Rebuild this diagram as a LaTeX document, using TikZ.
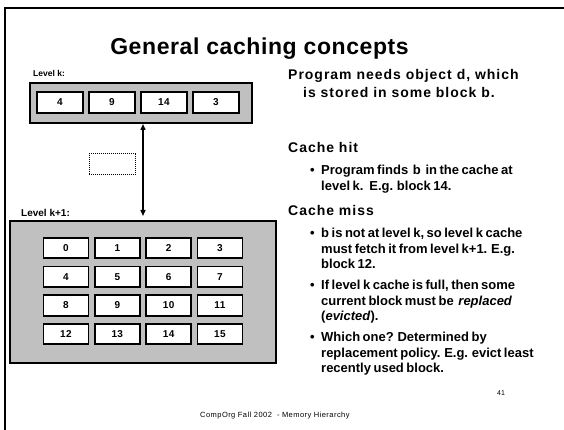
\documentclass[tikz,border=0pt]{standalone}
\usepackage{fontspec}
\setmainfont{Liberation Sans}
\newfontfamily\titlefont[LetterSpace=2.5]{Liberation Sans}
\newfontfamily\headfont[LetterSpace=7]{Liberation Sans}
\newfontfamily\bodyfont[WordSpace=0.7]{Liberation Sans}
\newfontfamily\numfont[LetterSpace=4]{Liberation Sans}
\newfontfamily\footfont[LetterSpace=6]{Liberation Sans}
\usetikzlibrary{arrows.meta}
\definecolor{cachegray}{HTML}{C0C0C0}
\tikzset{
  slideframe/.style={line width=2.2pt},
  panel/.style={draw, line width=2pt, fill=cachegray, inner sep=0pt},
  cell/.style={draw, line width=1.8pt, fill=white, inner sep=0pt,
    minimum width=46pt, minimum height=21pt,
    font=\numfont\bfseries\fontsize{10}{12}\selectfont},
  lvl/.style={anchor=base west, inner sep=0pt, font=\bfseries\fontsize{8.5}{10}\selectfont},
  head/.style={anchor=base west, inner sep=0pt, font=\headfont\bfseries\fontsize{14}{16}\selectfont},
  body/.style={anchor=base west, inner sep=0pt, font=\bodyfont\bfseries\fontsize{13}{15}\selectfont},
  bul/.style={anchor=base west, inner sep=0pt, font=\bfseries\fontsize{13}{15}\selectfont},
  link/.style={line width=1.4pt, {Triangle[length=6pt,width=5pt]}-{Triangle[length=6pt,width=5pt]}},
  ghost/.style={draw, line width=1pt, dash pattern=on 1pt off 1pt, minimum width=46pt, minimum height=21pt, inner sep=0pt}
}
\begin{document}
\begin{tikzpicture}[x=1pt,y=-1pt]
\useasboundingbox (0,0) rectangle (564,430);
\fill[white] (0,0) rectangle (564,430);
% slide frame
\draw[slideframe] (5,430) -- (5,8) -- (564,8);
% title
\node[anchor=base, inner sep=0pt, font=\titlefont\bfseries\fontsize{23}{27}\selectfont] (title) at (259.5,55) {General caching concepts};
% level k
\node[lvl] (lklab) at (33,77) {Level k:};
\node[panel, minimum width=222.5pt, minimum height=40pt] (lk) at (140.75,103) {};
\foreach \v [count=\i from 0] in {4,9,14,3}
  \node[cell] (k\i) at ({60+52*\i},102.5) {\v};
% level k+1
\node[lvl, font=\bfseries\fontsize{10}{12}\selectfont] (lk1lab) at (21,217) {Level k+1:};
\node[panel, minimum width=266.5pt, minimum height=142pt] (lk1) at (142.75,292) {};
\foreach \r in {0,...,3}
  \foreach \c in {0,...,3} {
    \pgfmathtruncatemacro\n{4*\r+\c}
    \node[cell, minimum width=45pt, minimum height=20.5pt] (m\n) at ({66+51.3*\c},{248+28.7*\r}) {\n};
  }
% transfer arrow
\coordinate (abot) at (143,216);
\draw[link] (abot |- lk.south) -- (abot);
% dotted block
\node[ghost] (gb) at (112,164.5) {};
% right text
\node[head] (h1) at (288,80) {Program needs object d, which};
\node[head] (h2) at (303,98) {is stored in some block b.};
\node[head] (hit) at (288,153) {Cache hit};
\node[bul] (bh) at (310,174.5) {•};
\node[body] (h1a) at (321,174.5) {Program finds\, b\, in the cache at};
\node[body] (h1b) at (321,190.5) {level k.\, E.g. block 14.};
\node[head] (miss) at (288,215.5) {Cache miss};
\node[bul] (b1) at (310,237.5) {•};
\node[body] (m1a) at (321,237.5) {b is not at level k, so level k cache};
\node[body] (m1b) at (321,253) {must fetch it from level k+1. E.g.};
\node[body] (m1c) at (321,268.5) {block 12.};
\node[bul] (b2) at (310,289.5) {•};
\node[body] (m2a) at (321,289.5) {If level k cache is full, then some};
\node[body] (m2b) at (321,305) {current block must be\, \textit{replaced}};
\node[body] (m2c) at (321,320.5) {(\textit{evicted}).};
\node[bul] (b3) at (310,341.5) {•};
\node[body] (m3a) at (321,341.5) {Which one? Determined by};
\node[body] (m3b) at (321,357) {replacement policy. E.g. evict least};
\node[body] (m3c) at (321,372.5) {recently used block.};
% footer
\node[anchor=base, inner sep=0pt, font=\fontsize{7}{8}\selectfont] (pg) at (501,395) {41};
\node[anchor=base west, inner sep=0pt, font=\footfont\fontsize{7.5}{9}\selectfont] (foot) at (200,417) {CompOrg Fall 2002\ \ -\ Memory Hierarchy};
\end{tikzpicture}
\end{document}
